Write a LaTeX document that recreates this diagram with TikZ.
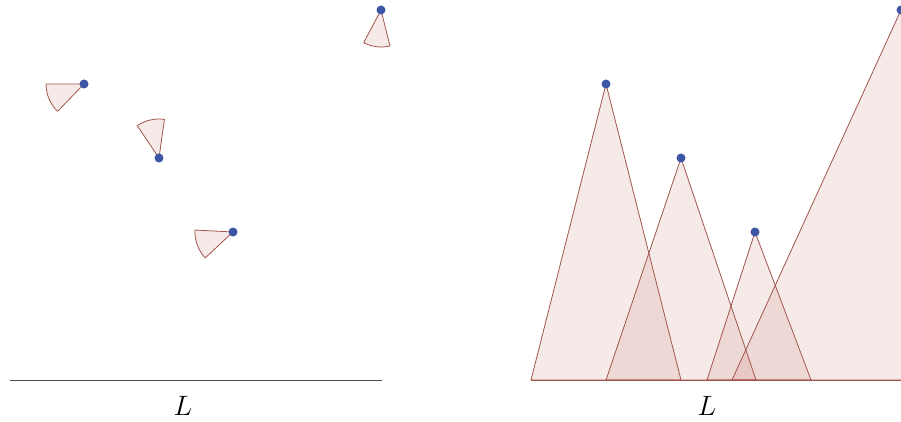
\RequirePackage{fix-cm}
\documentclass[tikz,border=0pt]{standalone}
\usepackage{tikz}
\usetikzlibrary{positioning}
\definecolor{conefill}{RGB}{185,95,85}
\definecolor{coneline}{RGB}{160,85,75}
\definecolor{dotblue}{RGB}{60,85,165}

\begin{document}
\begin{tikzpicture}[
    x=1pt, y=1pt,
    cam/.style={circle, fill=dotblue, inner sep=0pt, minimum size=9pt},
    cone/.style={draw=coneline, line width=0.8pt, fill=conefill, fill opacity=0.13, line join=round},
    ground/.style={line width=1pt},
    lab/.style={font=\fontsize{28}{32}\selectfont},
]
    \useasboundingbox (0,0) rectangle (901,421);
    \clip (0,0) rectangle (901,421);

    % left: cameras with their small cones
    \coordinate (a1) at (84,337);
    \coordinate (a2) at (159,263);
    \coordinate (a3) at (233,189);
    \coordinate (a4) at (381,411);
    \draw[cone] (a1) -- ++(180:38) arc[start angle=180, end angle=226, radius=38] -- cycle;
    \draw[cone] (a2) -- ++(82:39) arc[start angle=82, end angle=124, radius=39] -- cycle;
    \draw[cone] (a3) -- ++(177:38) arc[start angle=177, end angle=223, radius=38] -- cycle;
    \draw[cone] (a4) -- ++(242:37) arc[start angle=242, end angle=284, radius=37] -- cycle;
    \foreach \i in {1,...,4}
        \node[cam] (cama\i) at (a\i) {};

    \coordinate (l0) at (10,41);
    \coordinate (l1) at (382,41);
    \draw[ground, black!70] (l0) -- (l1);
    \node[lab] (labL) at (183,15) {$L$};

    % right: the same cameras with full cones down to L
    \coordinate (b1) at (606,337);
    \coordinate (b2) at (681,263);
    \coordinate (b3) at (755,189);
    \coordinate (b4) at (901,411);
    \draw[cone] (b1) -- (531,41) -- (681,41) -- cycle;
    \draw[cone] (b2) -- (606,41) -- (756,41) -- cycle;
    \draw[cone] (b3) -- (707,41) -- (811,41) -- cycle;
    \draw[cone] (b4) -- (732,41) -- (1070,41) -- cycle;
    \foreach \i in {1,...,4}
        \node[cam] (camb\i) at (b\i) {};

    \coordinate (r0) at (531,41);
    \coordinate (r1) at (901,41);
    \draw[ground, coneline] (r0) -- (r1);
    \node[lab] (labR) at (707,15) {$L$};
\end{tikzpicture}
\end{document}
